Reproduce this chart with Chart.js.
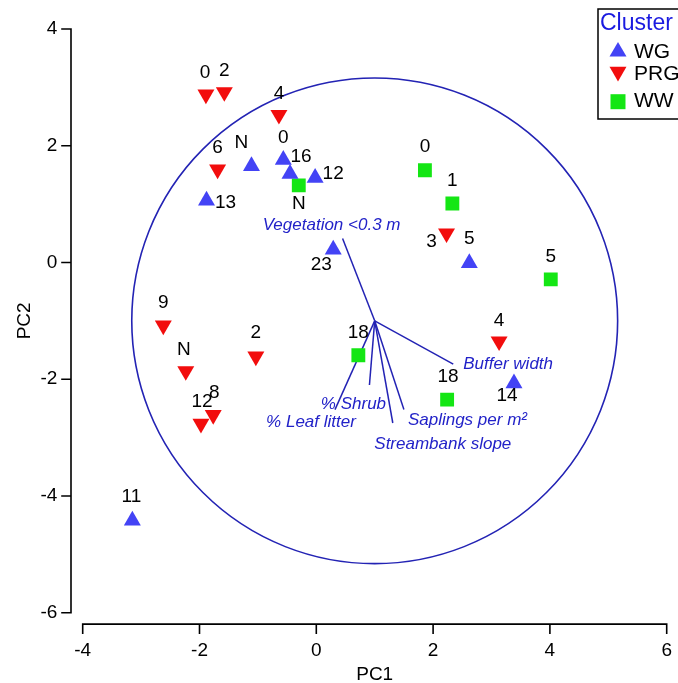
<!DOCTYPE html>
<html>
<head>
<meta charset="utf-8">
<script src="https://cdn.jsdelivr.net/npm/chart.js@4/dist/chart.umd.min.js"></script>
<style>
  html, body { margin: 0; padding: 0; background: #fff; overflow: hidden; }
  #wrap { width: 678px; height: 683px; }
</style>
</head>
<body>
<div id="wrap"><canvas id="c" width="678" height="683"></canvas></div>
<script>
// Site scores on PC1 / PC2, one set of arrays per cluster
const wgPC1 = [-1.11, -0.565, -0.45, -0.02, -1.88, 0.29, 2.62, 3.385, -3.15];
const wgPC2 = [1.65, 1.76, 1.52, 1.45, 1.06, 0.22, -0.01, -2.07, -4.42];
const wgSites = ['N', '0', '16', '12', '13', '23', '5', '14', '11'];

const prgPC1 = [-1.89, -1.575, -0.64, -1.69, 2.23, 3.13, -2.62, -1.035, -2.235, -1.765, -1.975];
const prgPC2 = [2.88, 2.92, 2.53, 1.595, 0.50, -1.35, -1.08, -1.61, -1.86, -2.61, -2.76];
const prgSites = ['0', '2', '4', '6', '3', '4', '9', '2', 'N', '8', '12'];

const wwPC1 = [-0.30, 1.86, 2.33, 4.015, 0.72, 2.24];
const wwPC2 = [1.32, 1.58, 1.01, -0.29, -1.59, -2.35];
const wwSites = ['N', '0', '1', '5', '18', '18'];

// Habitat variable loadings (arrows start at the biplot origin)
const loadingOrigin = [1, -1];
const loadingNames = ['Vegetation <0.3 m', 'Buffer width', '% Leaf litter', '% Shrub', 'Streambank slope', 'Saplings per m²'];
const loadingPC1 = [0.45, 2.345, 0.32, 0.91, 1.31, 1.50];
const loadingPC2 = [0.41, -1.74, -2.52, -2.10, -2.75, -2.52];
const circleRadius = 4.16;

// Axis ranges and tick step
const xRange = [-4, 6];
const yRange = [-6, 4];
const tickStep = 2;

// Where each site number sits relative to its marker (pixels)
const wgLabelOffset = [[-10, -23], [0, -22], [11, -17], [18, -4], [19, 2], [-12, 15], [0, -24], [-7, 12], [-1, -23.5]];
const prgLabelOffset = [[-1, -22], [0, -21], [0, -21], [0, -22], [-15, 8], [0, -21], [0, -22.5], [0, -23.5], [-2, -21], [1, -22.5], [1, -22]];
const wwLabelOffset = [[0, 18], [0, -23], [0, -22.5], [0, -22.5], [0, -22.5], [1, -23]];
const loadingLabelPlace = [
  { dx: -11, dy: -13, align: 'center' },
  { dx: 10, dy: 0, align: 'left' },
  { dx: -24, dy: 13, align: 'center' },
  { dx: -16, dy: 19, align: 'center' },
  { dx: 50, dy: 21, align: 'center' },
  { dx: 4, dy: 11, align: 'left' }
];

const FONT = '"Liberation Sans", Arial, Helvetica, sans-serif';
const BLUE_LINE = '#2323b4';
const BLUE_TEXT = '#2222c8';

function pts(xs, ys) { return xs.map((x, i) => ({ x: x, y: ys[i] })); }

const clusterSets = [
  { label: 'WG', data: pts(wgPC1, wgPC2), sites: wgSites, offsets: wgLabelOffset,
    pointStyle: 'triangle', rotation: 0, backgroundColor: '#4343f5' },
  { label: 'PRG', data: pts(prgPC1, prgPC2), sites: prgSites, offsets: prgLabelOffset,
    pointStyle: 'triangle', rotation: 180, backgroundColor: '#f20d0d' },
  { label: 'WW', data: pts(wwPC1, wwPC2), sites: wwSites, offsets: wwLabelOffset,
    pointStyle: 'rect', rotation: 0, backgroundColor: '#14e614' }
].map(d => Object.assign(d, {
  type: 'scatter', pointRadius: 9.8, pointHoverRadius: 9.8, borderWidth: 0,
  pointBorderWidth: 0, borderColor: d.backgroundColor
}));

const loadingSets = loadingNames.map((name, i) => ({
  type: 'line', label: name,
  data: [{ x: loadingOrigin[0], y: loadingOrigin[1] }, { x: loadingPC1[i], y: loadingPC2[i] }],
  borderColor: BLUE_LINE, borderWidth: 1.5, pointRadius: 0, fill: false, tension: 0
}));

function drawMarker(ctx, style, rotation, radius, x, y, color) {
  ctx.save();
  ctx.fillStyle = color;
  ctx.strokeStyle = color;
  Chart.helpers.drawPoint(ctx, { pointStyle: style, rotation: rotation, radius: radius, borderWidth: 0 }, x, y);
  ctx.restore();
}

const biplotDecor = {
  id: 'biplotDecor',
  beforeDatasetsDraw(chart) {
    const ctx = chart.ctx, xs = chart.scales.x, ys = chart.scales.y, ca = chart.chartArea;
    ctx.save();
    // correlation circle
    const cx = xs.getPixelForValue(loadingOrigin[0]);
    const cy = ys.getPixelForValue(loadingOrigin[1]);
    const rx = Math.abs(xs.getPixelForValue(loadingOrigin[0] + circleRadius) - cx);
    const ry = Math.abs(ys.getPixelForValue(loadingOrigin[1] + circleRadius) - cy);
    ctx.strokeStyle = BLUE_LINE;
    ctx.lineWidth = 1.6;
    ctx.beginPath();
    ctx.ellipse(cx, cy, rx, ry, 0, 0, Math.PI * 2);
    ctx.stroke();

    // detached axes with outward ticks
    ctx.strokeStyle = '#000';
    ctx.lineWidth = 1.6;
    ctx.lineCap = 'square';
    const ax = ca.left - 11.7;
    ctx.beginPath();
    ctx.moveTo(ax, ys.getPixelForValue(yRange[1]));
    ctx.lineTo(ax, ys.getPixelForValue(yRange[0]));
    ys.ticks.forEach(t => {
      const p = ys.getPixelForValue(t.value);
      ctx.moveTo(ax, p);
      ctx.lineTo(ax - 9, p);
    });
    const ay = ca.bottom + 11.4;
    ctx.moveTo(xs.getPixelForValue(xRange[0]), ay);
    ctx.lineTo(xs.getPixelForValue(xRange[1]), ay);
    xs.ticks.forEach(t => {
      const p = xs.getPixelForValue(t.value);
      ctx.moveTo(p, ay);
      ctx.lineTo(p, ay + 9);
    });
    ctx.stroke();
    ctx.restore();
  },
  afterDatasetsDraw(chart) {
    const ctx = chart.ctx, xs = chart.scales.x, ys = chart.scales.y;
    ctx.save();
    // site numbers
    ctx.font = '19px ' + FONT;
    ctx.fillStyle = '#000';
    ctx.textAlign = 'center';
    ctx.textBaseline = 'middle';
    chart.data.datasets.forEach(ds => {
      if (!ds.sites) return;
      ds.data.forEach((p, i) => {
        const px = xs.getPixelForValue(p.x), py = ys.getPixelForValue(p.y);
        ctx.fillText(ds.sites[i], px + ds.offsets[i][0], py + ds.offsets[i][1]);
      });
    });

    // loading names at arrow tips
    ctx.font = 'italic 17px ' + FONT;
    ctx.fillStyle = BLUE_TEXT;
    loadingNames.forEach((name, i) => {
      const px = xs.getPixelForValue(loadingPC1[i]), py = ys.getPixelForValue(loadingPC2[i]);
      const pl = loadingLabelPlace[i];
      ctx.textAlign = pl.align;
      ctx.fillText(name, px + pl.dx, py + pl.dy);
    });

    // cluster legend
    ctx.strokeStyle = '#000';
    ctx.lineWidth = 1.5;
    ctx.strokeRect(598, 9, 110, 110);
    ctx.textAlign = 'left';
    ctx.font = '23px ' + FONT;
    ctx.fillStyle = '#1a1ae0';
    ctx.fillText('Cluster', 600, 24);
    const rowMarkY = [51.7, 71.7, 101.7];
    const rowTextY = [52, 74, 101];
    ctx.font = '21px ' + FONT;
    clusterSets.forEach((ds, i) => {
      drawMarker(ctx, ds.pointStyle, ds.rotation, ds.pointStyle === 'rect' ? 10.6 : 9.8, 618, rowMarkY[i], ds.backgroundColor);
      ctx.fillStyle = '#000';
      ctx.fillText(ds.label, 634, rowTextY[i]);
    });
    ctx.restore();
  }
};

new Chart(document.getElementById('c'), {
  type: 'scatter',
  data: { datasets: clusterSets.concat(loadingSets) },
  options: {
    responsive: false,
    devicePixelRatio: 1,
    animation: false,
    layout: { padding: { top: 29, right: 11.3, left: 0, bottom: 0 } },
    plugins: { legend: { display: false }, tooltip: { enabled: false } },
    scales: {
      x: {
        type: 'linear', min: xRange[0], max: xRange[1],
        ticks: { stepSize: tickStep, color: '#000', font: { family: FONT, size: 19 }, padding: 27 },
        grid: { display: false, drawTicks: false },
        border: { display: false },
        title: { display: true, text: 'PC1', color: '#000', font: { family: FONT, size: 19 }, padding: { top: 0, bottom: -3 } },
        afterFit(s) { s.height = 70.3; s.paddingLeft = 0; s.paddingRight = 0; }
      },
      y: {
        type: 'linear', min: yRange[0], max: yRange[1],
        ticks: { stepSize: tickStep, color: '#000', font: { family: FONT, size: 19 }, padding: 25.4 },
        grid: { display: false, drawTicks: false },
        border: { display: false },
        title: { display: true, text: 'PC2', color: '#000', font: { family: FONT, size: 19 }, padding: { top: 13, bottom: 0 } },
        afterFit(s) { s.width = 82.7; s.paddingTop = 0; s.paddingBottom = 0; }
      }
    }
  },
  plugins: [biplotDecor]
});
</script>
</body>
</html>
